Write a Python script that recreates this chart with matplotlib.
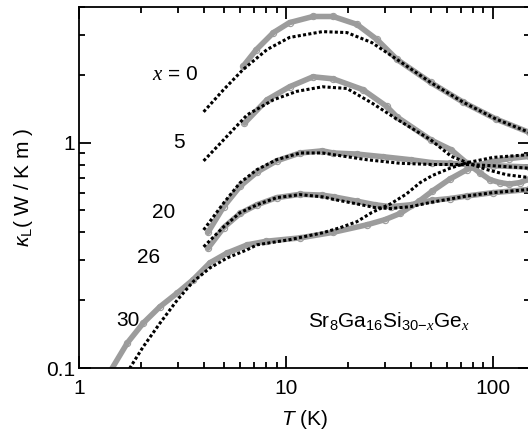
import matplotlib
matplotlib.use("Agg")
import matplotlib.pyplot as plt
from matplotlib.ticker import NullFormatter, LogLocator

plt.rcParams['font.family'] = ['Liberation Sans', 'DejaVu Sans']
plt.rcParams['mathtext.fontset'] = 'custom'
plt.rcParams['mathtext.rm'] = 'Liberation Sans'
plt.rcParams['mathtext.it'] = 'Liberation Sans:italic'
plt.rcParams['mathtext.sf'] = 'Liberation Serif:italic'

# measured data (gray circles) and fits (dotted), T in K, kappa_L in W/K m
T_x0_data = [6.2, 7.2, 8.7, 10.4, 13.5, 16.9, 22, 27.5, 34.4, 50, 72, 104, 150]
k_x0_data = [2.18, 2.59, 3.08, 3.41, 3.63, 3.63, 3.35, 2.87, 2.34, 1.85, 1.51, 1.27, 1.11]
T_x0_fit = [4, 5, 6.2, 8.1, 10.4, 15, 19.7, 26, 34.4, 50, 72, 104, 150]
k_x0_fit = [1.37, 1.72, 2.11, 2.59, 2.93, 3.11, 3.08, 2.78, 2.34, 1.85, 1.51, 1.27, 1.11]

T_x5_data = [6.3, 8.1, 10.4, 13.5, 16.9, 23.5, 30.6, 34.4, 50, 62.8, 75, 86.5, 96.6, 108, 120, 135, 150]
k_x5_data = [1.22, 1.55, 1.77, 1.96, 1.92, 1.72, 1.45, 1.30, 1.03, 0.93, 0.81, 0.735, 0.685, 0.665, 0.655, 0.665, 0.69]
T_x5_fit = [4, 5, 6.5, 8.7, 11.3, 15, 19.7, 26, 34.4, 50, 62.8, 75, 93, 117, 150]
k_x5_fit = [0.83, 1.03, 1.33, 1.55, 1.69, 1.77, 1.74, 1.50, 1.27, 1.03, 0.87, 0.815, 0.76, 0.72, 0.70]

T_x20_data = [4.2, 5, 6, 7.24, 9, 11.7, 15, 16.9, 22, 29.5, 40, 51, 62, 75, 100, 150]
k_x20_data = [0.40, 0.52, 0.64, 0.74, 0.83, 0.90, 0.92, 0.90, 0.89, 0.866, 0.84, 0.815, 0.81, 0.80, 0.79, 0.78]
T_x20_fit = [4, 5, 6, 7.24, 9, 11.7, 15, 16.9, 24.6, 35.6, 51, 75, 100, 150]
k_x20_fit = [0.41, 0.54, 0.664, 0.759, 0.84, 0.90, 0.90, 0.885, 0.84, 0.81, 0.80, 0.80, 0.79, 0.77]

T_x26_data = [4.2, 5, 6, 7.24, 9, 11.7, 15, 17, 22, 27, 32, 40, 51, 62, 75, 100, 150]
k_x26_data = [0.34, 0.42, 0.485, 0.53, 0.57, 0.59, 0.585, 0.575, 0.55, 0.53, 0.52, 0.53, 0.555, 0.565, 0.58, 0.60, 0.62]
T_x26_fit = [4, 5, 6, 7.24, 9, 11.7, 15, 17, 22, 27, 32, 40, 51, 75, 100, 150]
k_x26_fit = [0.345, 0.423, 0.489, 0.53, 0.57, 0.588, 0.575, 0.56, 0.535, 0.515, 0.51, 0.52, 0.545, 0.58, 0.60, 0.62]

T_x30_data = [1.4, 1.71, 2.04, 2.46, 2.98, 3.55, 4.29, 5.2, 6.5, 8, 11.7, 16.9, 24.6, 30, 35.6, 44, 51, 62, 75, 93, 120, 150]
k_x30_data = [0.095, 0.129, 0.158, 0.187, 0.215, 0.246, 0.293, 0.324, 0.352, 0.365, 0.378, 0.40, 0.432, 0.455, 0.485, 0.55, 0.61, 0.69, 0.76, 0.815, 0.85, 0.87]
T_x30_fit = [1.7, 2.04, 2.46, 2.98, 3.55, 4.29, 5.2, 6.5, 7.24, 10.4, 15, 18.2, 22, 26, 32, 38, 44.5, 51, 62, 75, 100, 150]
k_x30_fit = [0.095, 0.124, 0.158, 0.2, 0.241, 0.278, 0.308, 0.335, 0.352, 0.371, 0.398, 0.419, 0.446, 0.49, 0.535, 0.59, 0.665, 0.715, 0.77, 0.815, 0.86, 0.885]

data_sets = [(T_x0_data, k_x0_data), (T_x5_data, k_x5_data), (T_x20_data, k_x20_data),
             (T_x26_data, k_x26_data), (T_x30_data, k_x30_data)]
fit_sets = [(T_x0_fit, k_x0_fit), (T_x5_fit, k_x5_fit), (T_x20_fit, k_x20_fit),
            (T_x26_fit, k_x26_fit), (T_x30_fit, k_x30_fit)]

labels = ['$\\mathsf{x}$ = 0', '5', '20', '26', '30']
label_T = [2.91, 3.04, 2.55, 2.18, 1.72]
label_k = [2.0, 1.0, 0.489, 0.308, 0.163]

gray = '#9c9c9c'

fig = plt.figure(figsize=(5.28, 4.37), dpi=100)
ax = fig.add_axes([79/528, (437-368)/437, (530-79)/528, (368-7)/437])

for T, k in data_sets:
    ax.plot(T, k, '-', color=gray, lw=4, solid_capstyle='round', zorder=2)
    ax.plot(T, k, 'o', ms=4.5, mfc='none', mec=gray, mew=0.8, zorder=2)

for T, k in fit_sets:
    ax.plot(T, k, color='black', lw=2.2, linestyle=(0, (1, 0.75)), zorder=3)

for lab, tx, ky in zip(labels, label_T, label_k):
    ax.text(tx, ky, lab, fontsize=15, ha='center', va='center')

ax.text(31.5, 0.16, r'Sr$_{8}$Ga$_{16}$Si$_{30\mathrm{-}\mathsf{x}}$Ge$_{\mathsf{x}}$',
        fontsize=15, ha='center', va='center')

ax.set_xscale('log')
ax.set_yscale('log')
ax.set_xlim(1, 151)
ax.set_ylim(0.1, 4.0)

ax.set_xticks([1, 10, 100])
ax.set_xticklabels(['1', '10', '100'])
ax.set_yticks([0.1, 1])
ax.set_yticklabels(['0.1', '1'])
ax.xaxis.set_minor_locator(LogLocator(subs=range(2, 10)))
ax.yaxis.set_minor_locator(LogLocator(subs=range(2, 10)))
ax.xaxis.set_minor_formatter(NullFormatter())
ax.yaxis.set_minor_formatter(NullFormatter())

ax.tick_params(which='both', direction='in', top=True, right=True, width=1.3, labelsize=15)
ax.tick_params(which='major', length=8.5)
ax.tick_params(which='minor', length=4.5)
ax.tick_params(axis='x', pad=8)
ax.tick_params(axis='y', pad=3)
for s in ax.spines.values():
    s.set_linewidth(1.3)

ax.set_xlabel('$T$ (K)', fontsize=15, labelpad=7)
ax.set_ylabel(r'$\kappa_{\mathrm{L}}$( W / K m )', fontsize=15, labelpad=8)

fig.savefig('out.png', dpi=100)
